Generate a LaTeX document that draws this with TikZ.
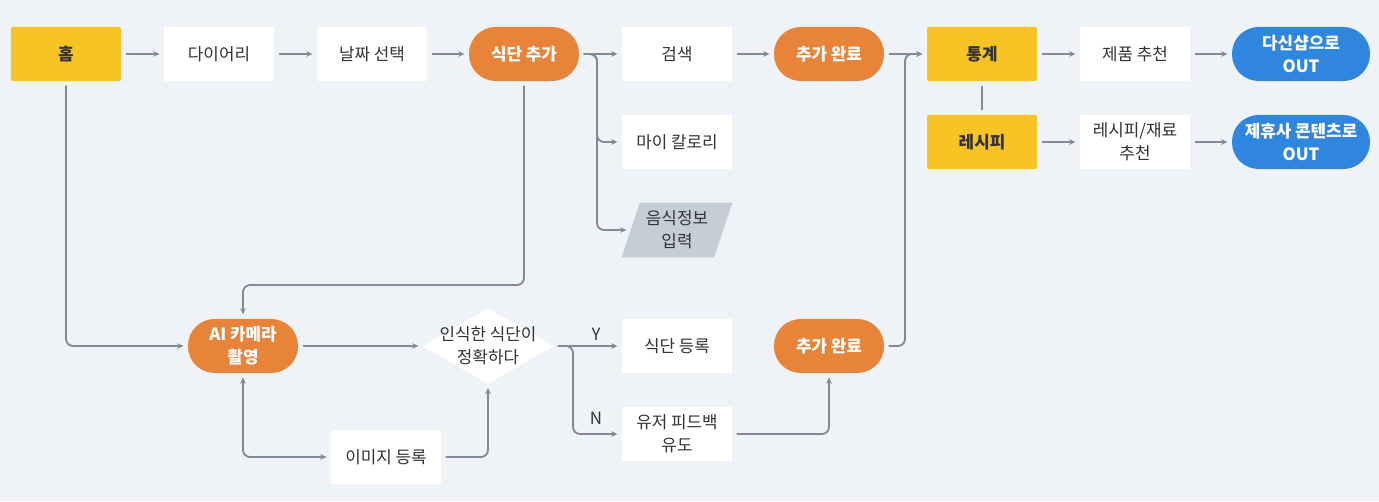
\documentclass[tikz,border=0pt]{standalone}
\usepackage{fontspec}
\setmainfont{Noto Sans CJK KR}
\usetikzlibrary{arrows.meta,calc,positioning}

\definecolor{bgcol}{HTML}{EFF3F7}
\definecolor{tabyellow}{HTML}{F7C325}
\definecolor{actorange}{HTML}{E8833A}
\definecolor{outblue}{HTML}{2E86DE}
\definecolor{linegray}{HTML}{7F8B97}
\definecolor{inputgray}{HTML}{C5CED7}
\definecolor{txtgray}{HTML}{333333}

\begin{document}
\begin{tikzpicture}[
  x=0.025cm, y=-0.025cm,
  >={Stealth[length=4.5pt,width=4pt]},
  every node/.style={font=\fontsize{12}{16.5}\selectfont, text=txtgray, align=center},
  menu/.style={
    fill=white,
    minimum width=2.75cm,
    minimum height=1.35cm,
    inner sep=1pt
  },
  tab/.style={menu, fill=tabyellow, rounded corners=1pt, font=\fontsize{12}{16.5}\selectfont\bfseries},
  act/.style={menu, fill=actorange, rounded corners=19pt, text=white, font=\fontsize{12}{16.5}\selectfont\bfseries},
  exit/.style={act, fill=outblue, minimum width=3.45cm},
  flow/.style={->, line width=1.3pt, draw=linegray, rounded corners=5pt, shorten <=3pt, shorten >=3pt},
  link/.style={flow, -}
]
\path[use as bounding box, fill=bgcol] (0,0) rectangle (1379,501);
% top row
 \node[tab] (home) at (66,54) {홈};
 \node[menu] (diary) at (219,54) {다이어리};
 \node[menu] (date) at (372,54) {날짜 선택};
 \node[act] (add) at (524,54) {식단 추가};
 \node[menu] (search) at (677,54) {검색};
 \node[menu] (mycal) at (677,142) {마이 칼로리};
 \node[menu, fill=none, minimum width=2.3cm] (info) at (677,230) {};
 \fill[inputgray] ($(info.south west)+(-9,0)$) -- ($(info.north west)+(9,0)$)
   -- ($(info.north east)+(9,0)$) -- ($(info.south east)+(-9,0)$) -- cycle;
 \node at (info) {음식정보\\입력};
 \node[act] (done1) at (829,54) {추가 완료};
 \node[tab] (stat) at (982,54) {통계};
 \node[tab] (recipe) at (982,142) {레시피};
 \node[menu] (prod) at (1135,54) {제품 추천};
 \node[menu] (recrec) at (1135,142) {레시피/재료\\추천};
 \node[exit] (outA) at (1301,54) {다신샵으로\\OUT};
 \node[exit] (outB) at (1301,142) {제휴사 콘텐츠로\\OUT};
% bottom row
 \node[act] (cam) at (243,346) {AI 카메라\\촬영};
 \node[menu, fill=none, minimum width=3.25cm, minimum height=1.875cm] (dec) at (488,346) {};
 \fill[white] (dec.north) -- (dec.east) -- (dec.south) -- (dec.west) -- cycle;
 \node at (dec) {인식한 식단이\\정확하다};
 \node[menu] (img) at (386,457) {이미지 등록};
 \node[menu] (reg) at (677,346) {식단 등록};
 \node[menu] (fb) at (677,434) {유저 피드백\\유도};
 \node[act] (done2) at (829,346) {추가 완료};
 \node (yes) at (596,334) {Y};
 \node (no) at (596,418) {N};
 \coordinate (br1) at (597,54);
 \coordinate (br2) at (905,54);
 \coordinate (br3) at (573,346);
 \coordinate (loopA) at (524,285);
% connectors
 \draw[flow] (home) -- (diary);
 \draw[flow] (diary) -- (date);
 \draw[flow] (date) -- (add);
 \draw[flow] (add) -- (search);
 \draw[flow] (add.east) -- (br1) |- (mycal.west);
 \draw[flow] (add.east) -- (br1) |- (info.west);
 \draw[flow] (search) -- (done1);
 \draw[flow] (done1) -- (stat);
 \draw[flow] (done2.east) -| (br2) -- (stat.west);
 \draw[link] (stat) -- (recipe);
 \draw[flow] (stat) -- (prod);
 \draw[flow] (prod) -- (outA);
 \draw[flow] (recipe) -- (recrec);
 \draw[flow] (recrec) -- (outB);
 \draw[flow] (home.south) |- (cam.west);
 \draw[flow] (add.south) -- (loopA) -| (cam.north);
 \draw[flow] (cam) -- (dec.west);
 \draw[flow,<->] (cam.south) |- (img.west);
 \draw[flow] (img.east) -| (dec.south);
 \draw[flow] (dec.east) -- (reg.west);
 \draw[flow] (dec.east) -- (br3) |- (fb.west);
 \draw[flow] (fb.east) -| (done2.south);
\end{tikzpicture}
\end{document}
